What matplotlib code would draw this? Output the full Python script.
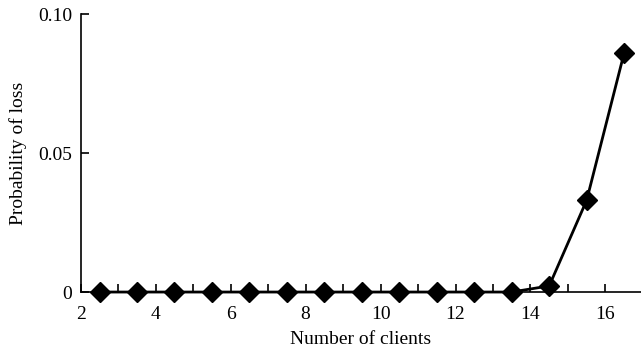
import matplotlib
matplotlib.use("Agg")
import matplotlib.pyplot as plt
from matplotlib.ticker import MultipleLocator

clients = [2.5, 3.5, 4.5, 5.5, 6.5, 7.5, 8.5, 9.5, 10.5, 11.5, 12.5, 13.5, 14.5, 15.5, 16.5]
prob_loss = [0, 0, 0, 0, 0, 0, 0, 0, 0, 0, 0, 0, 0.0022, 0.033, 0.086]
x_ticks = [2, 4, 6, 8, 10, 12, 14, 16]
y_ticks = [0, 0.05, 0.10]
y_labels = ["0", "0.05", "0.10"]

plt.rcParams['font.family'] = ['Liberation Serif', 'DejaVu Serif']

fig = plt.figure(figsize=(6.41, 3.51), dpi=100)
ax = fig.add_axes([0.126, 0.168, 0.874, 0.792])
ax.plot(clients, prob_loss, color='black', lw=2, marker='D', markersize=10.5, clip_on=False, zorder=3)
ax.set_xlim(2, 16.95)
ax.set_ylim(0, 0.10)
ax.set_xticks(x_ticks)
ax.set_xticklabels([str(t) for t in x_ticks])
ax.xaxis.set_minor_locator(MultipleLocator(1))
ax.set_yticks(y_ticks)
ax.set_yticklabels(y_labels)
for s in ['top', 'right']:
    ax.spines[s].set_visible(False)
for s in ['left', 'bottom']:
    ax.spines[s].set_linewidth(1.2)
ax.tick_params(axis='both', which='both', direction='in', length=6, width=1.2, labelsize=14)
ax.tick_params(axis='y', pad=6)
ax.tick_params(axis='x', pad=10)
ax.set_xlabel("Number of clients", fontsize=14, labelpad=6)
ax.set_ylabel("Probability of loss", fontsize=14, labelpad=8)
fig.savefig("out.png", dpi=100)
